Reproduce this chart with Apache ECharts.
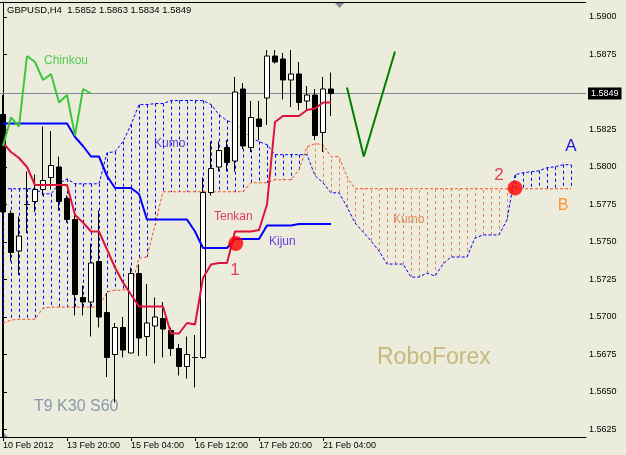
<!DOCTYPE html>
<html><head><meta charset="utf-8">
<script src="https://cdn.jsdelivr.net/npm/echarts@6/dist/echarts.min.js"></script>
<style>html,body{margin:0;padding:0;background:#ECECDC;}#c{width:626px;height:455px;}</style>
</head><body><div id="c"></div>
<script>
// ---- Data ----
const candleOpen  = [1.5835,1.5769,1.5744,1.5775,1.5777,1.5785,1.5793,1.5800,1.5779,1.5765,1.5713,1.5710,1.5737,1.5703,1.5675,1.5693,1.5676,1.5729,1.5687,1.5694,1.5699,1.5691,1.5679,1.5667,1.5673,1.5673,1.5783,1.5800,1.5813,1.5804,1.5852,1.5813,1.5832,1.5846,1.5874,1.5872,1.5858,1.5862,1.5844,1.5848,1.5823,1.5852];
const candleClose = [1.5770,1.5743,1.5754,1.5775,1.5785,1.5791,1.5801,1.5777,1.5765,1.5715,1.5710,1.5736,1.5700,1.5673,1.5693,1.5678,1.5729,1.5686,1.5696,1.5700,1.5692,1.5679,1.5667,1.5675,1.5673,1.5783,1.5799,1.5811,1.5803,1.5850,1.5814,1.5833,1.5827,1.5874,1.5870,1.5858,1.5862,1.5843,1.5848,1.5821,1.5852,1.5849];
const candleLow   = [1.5620,1.5737,1.5728,1.5756,1.5770,1.5781,1.5785,1.5771,1.5763,1.5701,1.5701,1.5687,1.5693,1.5660,1.5643,1.5673,1.5676,1.5674,1.5674,1.5669,1.5673,1.5674,1.5661,1.5659,1.5653,1.5672,1.5781,1.5797,1.5797,1.5797,1.5812,1.5810,1.5818,1.5828,1.5869,1.5845,1.5840,1.5838,1.5838,1.5818,1.5810,1.5834];
const candleHigh  = [1.5848,1.5771,1.5767,1.5797,1.5795,1.5827,1.5824,1.5807,1.5781,1.5769,1.5721,1.5749,1.5771,1.5716,1.5696,1.5700,1.5733,1.5735,1.5722,1.5713,1.5710,1.5693,1.5682,1.5687,1.5688,1.5793,1.5817,1.5817,1.5818,1.5860,1.5856,1.5844,1.5844,1.5878,1.5878,1.5876,1.5878,1.5870,1.5854,1.5852,1.5860,1.5863];

const tenkan = [1.5816,1.5810,1.5806,1.5800,1.5788,1.5788,1.5788,1.5788,1.5788,1.5768,1.5763,1.5757,1.5757,1.5745,1.5733,1.5723,1.5715,1.5707,1.5707,1.5707,1.5707,1.5689,1.5689,1.5696,1.5695,1.5726,1.5735,1.5736,1.5736,1.5757,1.5757,1.5757,1.5758,1.5775,1.5830,1.5834,1.5834,1.5834,1.5838,1.5839,1.5843,1.5843];
const kijun  = [1.5829,1.5829,1.5829,1.5829,1.5829,1.5829,1.5829,1.5829,1.5829,1.5820,1.5814,1.5807,1.5807,1.5794,1.5786,1.5786,1.5786,1.5782,1.5765,1.5765,1.5765,1.5765,1.5765,1.5765,1.5757,1.5746,1.5746,1.5746,1.5746,1.5752,1.5752,1.5752,1.5752,1.5761,1.5761,1.5761,1.5761,1.5762,1.5762,1.5762,1.5762,1.5762];
const chinkou = [1.5814,1.5833,1.5827,1.5874,1.5870,1.5858,1.5862,1.5843,1.5848,1.5821,1.5852,1.5849];

const senkouA = [1.57855,1.57855,1.57855,1.57855,1.57855,1.57821,1.57821,1.57888,1.57921,1.57888,1.57888,1.57888,1.57888,
  1.58095,1.58102,1.58169,1.58283,1.58416,1.58416,1.58423,1.58423,1.58443,1.58443,1.58443,1.58443,1.58443,
  1.58416,1.58349,1.58309,1.58289,1.58243,1.58196,1.58169,1.58149,1.58082,1.58082,1.58082,1.58082,1.58082,
  1.57942,1.57895,1.57828,1.57828,1.57734,1.57627,1.57567,1.57507,1.57440,1.57353,1.57353,1.57353,
  1.57266,1.57266,1.57293,1.57273,1.57353,1.57400,1.57400,1.57400,1.57527,1.57547,1.57547,1.57547,1.57647,
  1.57948,1.57962,1.57968,1.57975,1.57995,1.58002,1.58015,1.58015];
const senkouB = [1.56959,1.56979,1.56985,1.56985,1.56985,1.57059,1.57066,1.57066,1.57066,1.57066,1.57066,1.57066,1.57066,
  1.57166,1.57179,1.57179,1.57193,1.57393,1.57400,1.57614,
  1.57835,1.57835,1.57835,1.57835,1.57835,1.57835,1.57835,1.57835,1.57835,1.57835,1.57835,
  1.57895,1.57895,1.57895,1.57915,1.57915,1.57915,1.57982,1.58135,1.58156,1.58149,1.58069,1.58069,1.57935,
  1.57855,1.57855,1.57855,1.57855,1.57855,1.57855,1.57855,1.57855,1.57855,1.57855,1.57855,1.57855,1.57855,1.57855,
  1.57855,1.57855,1.57855,1.57855,1.57855,1.57855,1.57855,1.57855,1.57855,1.57855,1.57855,1.57855,1.57855,1.57855];

// hand-drawn green "V" and signal markers (bar index, price)
const arrowX = [43, 45.1, 49];
const arrowY = [1.5853, 1.5807, 1.5877];
const markerX = [29.1, 64];
const markerY = [1.5749, 1.5786];

const lastPrice = 1.5849;
const xTickIndex = [0, 8, 16, 24, 32, 40];
const xTickLabels = ['10 Feb 2012', '13 Feb 20:00', '15 Feb 04:00', '16 Feb 12:00', '17 Feb 20:00', '21 Feb 04:00'];
const yTicks = [1.5625,1.5650,1.5675,1.5700,1.5725,1.5750,1.5775,1.5800,1.5825,1.5875,1.5900];
// ---------------------------------------

const X_MIN = -0.375, X_MAX = 72.875;
const candles = candleOpen.map((o, i) => [i, o, candleClose[i], candleLow[i], candleHigh[i]]);
const pairs = arr => arr.map((v, i) => [i, v]);
const cloud = senkouA.map((a, i) => [i, a, senkouB[i]]);

const F = 'Liberation Sans, Arial, sans-serif';
const chart = echarts.init(document.getElementById('c'), null, {renderer: 'canvas'});
chart.setOption({
  animation: false,
  backgroundColor: '#ECECDC',
  grid: {left: 0, right: 40, top: 2, bottom: 18, show: false},
  xAxis: {
    type: 'value', min: X_MIN, max: X_MAX,
    axisLine: {show: true, lineStyle: {color: '#000', width: 1}},
    axisTick: {show: true, length: 4, customValues: xTickIndex, lineStyle: {color: '#000'}},
    axisLabel: {show: true, customValues: xTickIndex, align: 'left', margin: 4,
      fontSize: 9, fontFamily: F, color: '#000',
      formatter: v => { const k = xTickIndex.indexOf(Math.round(v)); return k >= 0 ? xTickLabels[k] : ''; }},
    splitLine: {show: false}
  },
  yAxis: {
    type: 'value', position: 'right', min: 1.5620, max: 1.5910, scale: true,
    axisLine: {show: true, lineStyle: {color: '#000', width: 1}},
    axisTick: {show: true, length: 4, customValues: yTicks, lineStyle: {color: '#000'}},
    axisLabel: {show: true, customValues: yTicks, margin: 3, fontSize: 9, fontFamily: F, color: '#000',
      formatter: v => v.toFixed(4)},
    splitLine: {show: false}
  },
  series: [
    {type: 'line', name: 'price', z: 1, clip: false, showSymbol: false, symbol: 'none',
      data: [[X_MIN, lastPrice], [X_MAX, lastPrice]],
      lineStyle: {color: '#7E8896', width: 1},
      endLabel: {show: true, distance: 2, formatter: lastPrice.toFixed(4),
        backgroundColor: '#000', color: '#fff', padding: [2, 3, 1, 3], fontSize: 9, fontFamily: F}},
    {
      type: 'custom', name: 'kumo', z: 1, data: cloud, clip: false,
      encode: {x: 0, y: [1, 2]},
      renderItem: (params, api) => {
        const i = api.value(0), a = api.value(1), b = api.value(2);
        const p1 = api.coord([i, a]), p2 = api.coord([i, b]);
        const x = Math.round(p1[0]) + 0.5;
        return {type: 'line', shape: {x1: x, y1: p1[1], x2: x, y2: p2[1]},
          style: {stroke: a >= b ? '#0000FF' : '#F0845A', lineWidth: 1, lineDash: [3, 3]}};
      }
    },
    {type: 'line', name: 'senkouA', z: 2, data: pairs(senkouA), showSymbol: false, symbol: 'none',
      lineStyle: {color: '#0000FF', width: 1, type: [3, 2]}},
    {type: 'line', name: 'senkouB', z: 2, data: pairs(senkouB), showSymbol: false, symbol: 'none',
      lineStyle: {color: '#F5501E', width: 1, type: [3, 2]}},
    {
      type: 'candlestick', name: 'GBPUSD', z: 3, clip: false, barWidth: 5,
      data: candles, encode: {x: 0, y: [1, 2, 3, 4]},
      itemStyle: {color: '#FFFFFF', color0: '#000000', borderColor: '#000000', borderColor0: '#000000', borderWidth: 1}
    },
    {type: 'line', name: 'Kijun', z: 4, data: pairs(kijun), showSymbol: false, symbol: 'none',
      lineStyle: {color: '#0000FF', width: 2}},
    {type: 'line', name: 'Tenkan', z: 5, data: pairs(tenkan), showSymbol: false, symbol: 'none',
      lineStyle: {color: '#DC143C', width: 2}},
    {type: 'line', name: 'Chinkou', z: 5, data: pairs(chinkou), showSymbol: false, symbol: 'none',
      lineStyle: {color: '#3CC83C', width: 2}},
    {type: 'line', name: 'arrow', z: 5, data: arrowX.map((x, i) => [x, arrowY[i]]), showSymbol: false, symbol: 'none',
      lineStyle: {color: '#008000', width: 2}},
    {type: 'scatter', name: 'signals', z: 6, data: markerX.map((x, i) => [x, markerY[i]]),
      symbol: 'circle', symbolSize: 15, itemStyle: {color: '#FF0000'}}
  ],
  graphic: [
    {type: 'line', shape: {x1: 0, y1: 2.5, x2: 586, y2: 2.5}, style: {stroke: '#000', lineWidth: 1}, silent: true},
    {type: 'polygon', shape: {points: [[335, 3], [344, 3], [339.5, 8]]}, style: {fill: '#7E8896'}, silent: true},
    {type: 'polygon', shape: {points: [[3, 432], [3, 437], [8, 437]]}, style: {fill: '#8090A0'}, silent: true},
    {type: 'text', style: {text: 'GBPUSD,H4  1.5852 1.5863 1.5834 1.5849', x: 7, y: 10, fill: '#000', font: '9.5px ' + F, align: 'left', verticalAlign: 'middle'}},
    {type: 'text', style: {text: 'Chinkou', x: 44, y: 61, fill: '#4CCC4C', font: '12px ' + F, align: 'left', verticalAlign: 'middle'}},
    {type: 'text', style: {text: 'Kumo', x: 154, y: 144, fill: '#5A3CD8', font: '12px ' + F, align: 'left', verticalAlign: 'middle'}},
    {type: 'text', style: {text: 'Tenkan', x: 214, y: 217, fill: '#DC3C5A', font: '12px ' + F, align: 'left', verticalAlign: 'middle'}},
    {type: 'text', style: {text: 'Kijun', x: 269, y: 242, fill: '#6A3CE6', font: '12px ' + F, align: 'left', verticalAlign: 'middle'}},
    {type: 'text', style: {text: '1', x: 235, y: 270, fill: '#DC3C5A', font: '17px ' + F, align: 'center', verticalAlign: 'middle'}},
    {type: 'text', style: {text: '2', x: 499, y: 175, fill: '#DC3C5A', font: '17px ' + F, align: 'center', verticalAlign: 'middle'}},
    {type: 'text', style: {text: 'Kumo', x: 393, y: 220, fill: '#DC8A55', font: '12px ' + F, align: 'left', verticalAlign: 'middle'}},
    {type: 'text', style: {text: 'A', x: 571, y: 146, fill: '#1A1AD8', font: '17px ' + F, align: 'center', verticalAlign: 'middle'}},
    {type: 'text', style: {text: 'B', x: 563, y: 206, fill: '#FF9326', font: '16px ' + F, align: 'center', verticalAlign: 'middle'}},
    {type: 'text', style: {text: 'RoboForex', x: 377, y: 358, fill: '#C6B97A', font: '23px ' + F, align: 'left', verticalAlign: 'middle'}},
    {type: 'text', style: {text: 'T9 K30 S60', x: 34, y: 407, fill: '#8A98AC', font: '16px ' + F, align: 'left', verticalAlign: 'middle'}}
  ]
});
</script></body></html>
